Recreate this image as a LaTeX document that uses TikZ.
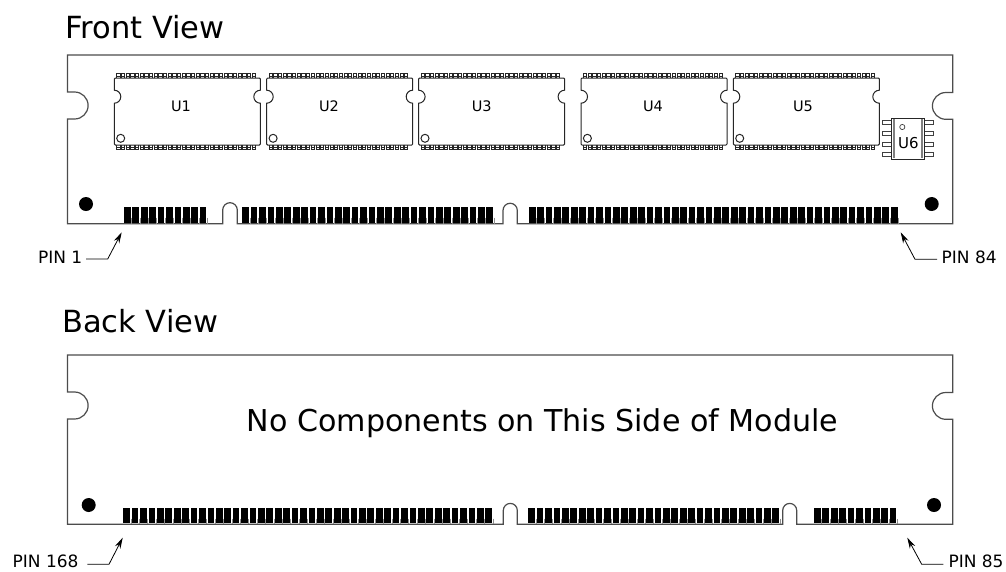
\documentclass[tikz,border=0pt]{standalone}
\usepackage{fontspec}
\setmainfont{DejaVu Sans}
\usetikzlibrary{arrows.meta}

\newcommand{\pinrow}[4]{% first x, number of pins, top y, bottom y
    \foreach \i in {1,...,#2} {
        \pgfmathsetmacro{\px}{#1+(\i-1)*8.42}
        \fill (\px,#3) rectangle (\px+6.7,#4-1);
        \draw[pinedge] (\px+7.5,#3+11) -- (\px+7.5,#4);
    }
}
\tikzset{
    pinedge/.style={black!45, line width=0.6pt}
}

\begin{document}
\begin{tikzpicture}[x=1pt, y=-1pt,
    boardline/.style={black!70, line width=1.2pt},
    chipline/.style={black!85, line width=1pt},
    tooth/.style={black!85, line width=0.6pt},
    title/.style={font=\fontsize{30.5}{31}\selectfont, anchor=base west, inner sep=0pt},
    pinlabel/.style={font=\fontsize{17}{17}\selectfont, inner sep=0pt},
    chiplabel/.style={font=\fontsize{14.5}{15}\selectfont, inner sep=0pt},
    leader/.style={black, line width=0.8pt, -{Stealth[length=11pt, width=6pt]}}
]
\useasboundingbox (0,0) rectangle (1006,571);
\fill[white] (0,0) rectangle (1006,571);

% Titles
\node[title] (fronttitle) at (65,38.5) {Front View};
\node[title] (backtitle) at (62,332.5) {Back View};

% Front board
\draw[boardline] (67.5,55) -- (952.7,55) -- (952.7,92.5) -- (945.8,92.5)
    arc[start angle=-90, end angle=-270, radius=13.4] -- (952.7,119.3) -- (952.7,223.7)
    -- (517.3,223.7) -- (517.3,210.4) arc[start angle=0, end angle=-180, radius=7.15] -- (503,223.7)
    -- (237.3,223.7) -- (237.3,210) arc[start angle=0, end angle=-180, radius=7.3] -- (222.7,223.7)
    -- (67.5,223.7) -- (67.5,119) -- (74.6,119)
    arc[start angle=90, end angle=-90, radius=13.5] -- (67.5,92) -- cycle;
\fill (86,204) circle (7);
\fill (931.7,204) circle (7);
\pinrow{124}{10}{206.7}{223.7}
\pinrow{242.3}{30}{206.7}{223.7}
\pinrow{528.8}{44}{206.7}{223.7}

% Chips U1 to U5
\foreach \x/\name/\lx in {114.3/U1/181, 266.7/U2/329, 418.6/U3/481.7, 581/U4/653, 733.3/U5/803} {
    \foreach \i in {1,...,30} {
        \pgfmathsetmacro{\tx}{\x+2.4+(\i-1)*4.67}
        \draw[tooth] (\tx,78) -- (\tx,73.5) -- (\tx+3.2,73.5) -- (\tx+3.2,78) (\tx,75.8) -- (\tx+3.2,75.8);
        \draw[tooth] (\tx,145) -- (\tx,149.5) -- (\tx+3.2,149.5) -- (\tx+3.2,145) (\tx,147.2) -- (\tx+3.2,147.2);
    }
    \draw[chipline] (\x+1,78) -- (\x+145,78) -- (\x+146,79) -- (\x+146,90.2)
        arc[start angle=-90, end angle=-270, radius=6.5] -- (\x+146,144) -- (\x+145,145)
        -- (\x+1,145) -- (\x,144) -- (\x,103.2)
        arc[start angle=90, end angle=-90, radius=6.5] -- (\x,79) -- cycle;
    \draw[chipline] (\x+6.4,138.3) circle (4);
    \node[chiplabel] (chip\name) at (\lx,106.5) {\name};
}

% Chip U6
\foreach \y in {122.7,133.3,144.3,154.7} {
    \draw[black!75, line width=0.8pt] (882.3,\y-2) rectangle (891.7,\y+2);
    \draw[black!75, line width=0.8pt] (924.3,\y-2) rectangle (933.3,\y+2);
}
\draw[chipline, fill=white] (891.7,118.3) rectangle (924.3,159);
\draw[gray, line width=2pt] (893.6,119) -- (893.6,158.4);
\draw[gray, line width=2pt] (922.4,119) -- (922.4,158.4);
\draw[black!75, line width=0.7pt] (902.3,127) circle (2.6);
\node[font=\fontsize{15}{15}\selectfont, inner sep=0pt] (chipU6) at (908.3,143.5) {U6};

% Front pin labels
\node[pinlabel, anchor=east] (pinone) at (82.5,257) {PIN 1};
\node[pinlabel, anchor=west] (pineightyfour) at (941.5,257) {PIN 84};
\coordinate (pinonetip) at (121.7,232.3);
\coordinate (pineightyfourtip) at (900.7,232.3);
\draw[leader] (pinone.east)+(3.5,2) -- (107.7,259) -- (pinonetip);
\draw[leader] (pineightyfour.west)+(-4.5,2.3) -- (915,259.3) -- (pineightyfourtip);

% Back board
\draw[boardline] (67.5,355) -- (952.7,355) -- (952.7,392.5) -- (945.8,392.5)
    arc[start angle=-90, end angle=-270, radius=13.4] -- (952.7,419.3) -- (952.7,524.3)
    -- (796.7,524.3) -- (796.7,510.4) arc[start angle=0, end angle=-180, radius=7] -- (782.7,524.3)
    -- (517.3,524.3) -- (517.3,510.4) arc[start angle=0, end angle=-180, radius=7] -- (503.3,524.3)
    -- (67.5,524.3) -- (67.5,419) -- (74.6,419)
    arc[start angle=90, end angle=-90, radius=13.5] -- (67.5,392) -- cycle;
\fill (88.7,505) circle (7);
\fill (934,505) circle (7);
\pinrow{123.3}{44}{507.7}{524.3}
\pinrow{528.3}{30}{507.7}{524.3}
\pinrow{814}{10}{507.7}{524.3}
\node[font=\fontsize{30.1}{31}\selectfont, inner sep=0pt, anchor=base] (nocomp) at (542.5,431) {No Components on This Side of Module};

% Back pin labels
\node[pinlabel, anchor=east] (pineight) at (78.7,561.5) {PIN 168};
\node[pinlabel, anchor=west] (pineightyfive) at (948.3,561.5) {PIN 85};
\coordinate (pineighttip) at (122.7,537.7);
\coordinate (pineightyfivetip) at (907.3,537.7);
\draw[leader] (pineight.east)+(8.6,2.8) -- (109,564.3) -- (pineighttip);
\draw[leader] (pineightyfive.west)+(-5,2.8) -- (921.7,564.3) -- (pineightyfivetip);
\end{tikzpicture}
\end{document}
